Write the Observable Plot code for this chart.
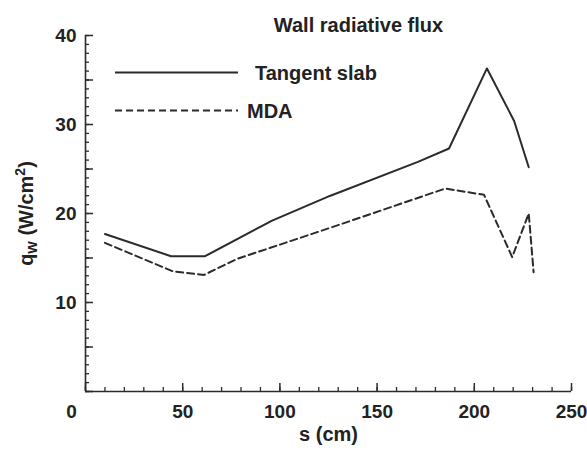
<!DOCTYPE html>
<html><head><meta charset="utf-8">
<script src="https://cdn.jsdelivr.net/npm/d3@7"></script>
<script src="https://cdn.jsdelivr.net/npm/@observablehq/plot@0.6"></script>
<style>html,body{margin:0;padding:0;background:#fff;}</style>
</head><body><div id="chart"></div>
<script>
// ---- data ----
const title = "Wall radiative flux";
const xLabel = "s (cm)";
const yLabel = "qw (W/cm2)";
const seriesNames = ["Tangent slab", "MDA"];
const sTangent = [10, 44, 61.5, 96, 126, 171, 187, 206.5, 220.5, 228];
const qTangent = [17.7, 15.2, 15.2, 19.2, 22.0, 25.8, 27.3, 36.3, 30.4, 25.2];
const sMDA = [10, 45, 61, 78, 126, 185, 205, 219.5, 228, 230.5];
const qMDA = [16.7, 13.5, 13.1, 14.9, 18.4, 22.8, 22.1, 15.1, 20.0, 13.4];
const xTickLabels = [50, 100, 150, 200, 250];
const xZeroLabel = [0];
const yTickLabels = [10, 20, 30, 40];
const xMajorTicks = [0, 50, 100, 150, 200, 250];
const xMinorTicks = d3.range(0, 251, 10);
const yMajorTicks = d3.range(0, 41, 5);
const yMinorTicks = d3.range(0, 41, 1);

const tangent = sTangent.map((s, i) => ({s, q: qTangent[i]}));
const mda = sMDA.map((s, i) => ({s, q: qMDA[i]}));

const ink = "#2b2b2b";
const dash = "7,4";
const font = "'Liberation Sans', Arial, Helvetica, sans-serif";

function legendMark(index, scales, values, dim) {
  const g = d3.create("svg:g").attr("font-family", font).attr("font-weight", "bold");
  const x0 = dim.marginLeft + 30, x1 = dim.marginLeft + 153;
  const items = [
    {name: seriesNames[0], y: dim.marginTop + 37.5, dash: null, tx: dim.marginLeft + 170},
    {name: seriesNames[1], y: dim.marginTop + 75.5, dash: dash, tx: dim.marginLeft + 162}
  ];
  for (const it of items) {
    g.append("line").attr("x1", x0).attr("x2", x1).attr("y1", it.y).attr("y2", it.y)
      .attr("stroke", ink).attr("stroke-width", 1.8).attr("stroke-dasharray", it.dash);
    g.append("text").attr("x", it.tx).attr("y", it.y).attr("dy", "0.35em")
      .attr("text-anchor", "start")
      .attr("font-size", 20).attr("fill", "#222").text(it.name);
  }
  return g.node();
}

const chart = Plot.plot({
  width: 587, height: 455,
  marginLeft: 85, marginRight: 16, marginTop: 35, marginBottom: 64,
  x: {domain: [0, 250]},
  y: {domain: [0, 40]},
  style: {fontFamily: font, fontWeight: "bold", fontSize: "19px", color: "#222", background: "white"},
  marks: [
    Plot.ruleY([0], {stroke: ink, strokeWidth: 1.6}),
    Plot.ruleX([0], {stroke: ink, strokeWidth: 1.6}),
    Plot.axisX(xMinorTicks, {tickSize: -4, tickFormat: () => "", label: null, stroke: ink, strokeWidth: 1.3}),
    Plot.axisX(xMajorTicks, {tickSize: -8, tickFormat: () => "", label: null, stroke: ink, strokeWidth: 1.5}),
    Plot.axisY(yMinorTicks, {tickSize: -4, tickFormat: () => "", label: null, stroke: ink, strokeWidth: 1.3}),
    Plot.axisY(yMajorTicks, {tickSize: -8, tickFormat: () => "", label: null, stroke: ink, strokeWidth: 1.5}),
    Plot.axisX(xTickLabels, {tickSize: 0, tickPadding: 13, label: null, fontSize: 19, fontWeight: "bold", fill: "#222"}),
    Plot.axisX(xZeroLabel, {tickSize: 0, tickPadding: 13, dx: -14, label: null, fontSize: 19, fontWeight: "bold", fill: "#222"}),
    Plot.axisY(yTickLabels, {tickSize: 0, tickPadding: 9, label: null, fontSize: 19, fontWeight: "bold", fill: "#222"}),
    Plot.line(tangent, {x: "s", y: "q", stroke: ink, strokeWidth: 2}),
    Plot.line(mda, {x: "s", y: "q", stroke: ink, strokeWidth: 2, strokeDasharray: dash}),
    Plot.text([title], {text: d => d, frameAnchor: "top", textAnchor: "middle", dx: 30, dy: -18, fontSize: 20, fontWeight: "bold", fill: "#222"}),
    Plot.text([xLabel], {text: d => d, frameAnchor: "bottom", textAnchor: "middle", dy: 49, fontSize: 20, fontWeight: "bold", fill: "#222"}),
    Plot.text([yLabel], {text: d => d, frameAnchor: "left", textAnchor: "middle", rotate: -90, dx: -59, fontSize: 20, fontWeight: "bold", fill: "#222"}),
    legendMark
  ]
});

// subscript / superscript in the y label
const NS = "http://www.w3.org/2000/svg";
chart.querySelectorAll("text").forEach(t => {
  if (t.textContent === yLabel) {
    t.textContent = "";
    const parts = [
      {s: "q", dy: 0},
      {s: "w", dy: 4, size: 16},
      {s: " (W/cm", dy: -4},
      {s: "2", dy: -8, size: 14},
      {s: ")", dy: 8}
    ];
    for (const p of parts) {
      const ts = document.createElementNS(NS, "tspan");
      ts.textContent = p.s;
      if (p.dy) ts.setAttribute("dy", p.dy);
      if (p.size) ts.setAttribute("font-size", p.size);
      t.appendChild(ts);
    }
  }
});

document.getElementById("chart").appendChild(chart);
</script>
</body></html>
